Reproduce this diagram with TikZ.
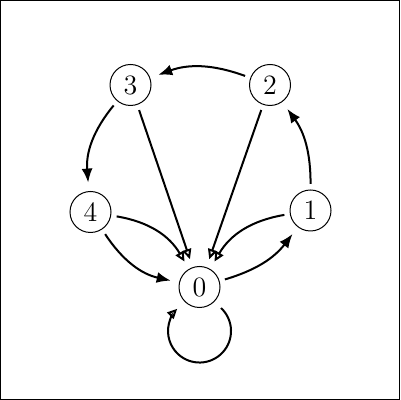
\documentclass[tikz,border=0pt]{standalone}
\usetikzlibrary{arrows.meta}
\begin{document}
\begin{tikzpicture}[x=0.5pt,y=0.5pt,
  state/.style={circle,draw,line width=0.5pt,minimum size=20.5pt,inner sep=0pt,outer sep=3pt,font=\fontsize{14}{16}\selectfont},
  fe/.style={line width=1pt,-{Latex[length=7pt,width=5.5pt]},shorten >=1.5pt},
  oe/.style={line width=1pt,-{Triangle[open,length=5pt,width=4.5pt]},shorten >=1.5pt},
  frame/.style={draw,line width=0.6pt}
]
\useasboundingbox (0,0) rectangle (400,400);
\path[frame] (0.6,0.6) rectangle (399.4,399.4);
\node[state] (n0) at (199.5,113) {0};
\node[state] (n1) at (310.5,189.5) {1};
\node[state] (n2) at (270,315) {2};
\node[state] (n3) at (130.5,315) {3};
\node[state] (n4) at (90.5,188) {4};
\draw[fe] (n2) to[bend right=20] (n3);
\draw[fe] (n1) to[bend right=18] (n2);
\draw[fe] (n3) to[bend right=22] (n4);
\draw[fe] (n4) to[bend right=22] (n0);
\draw[fe] (n0) to[bend right=18] (n1);
\draw[oe] (n4) to[bend left=25] (n0);
\draw[oe] (n1) to[bend right=25] (n0);
\draw[oe] (n3) -- (n0);
\draw[oe] (n2) -- (n0);
\draw[oe,shorten >=0pt] ([shift={(21.5,-21)}]n0.center) arc[start angle=47,end angle=-225,radius=15.75pt];
\end{tikzpicture}
\end{document}
